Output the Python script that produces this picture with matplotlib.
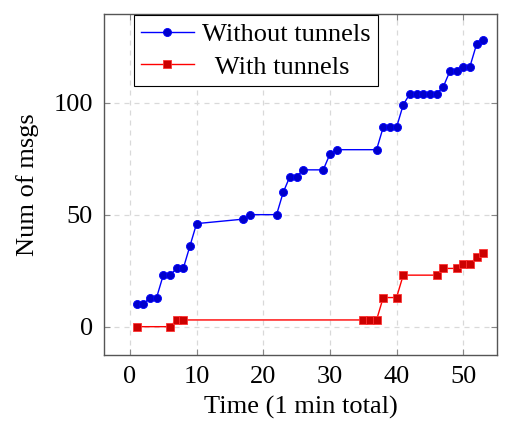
import matplotlib
matplotlib.use("Agg")
import matplotlib.pyplot as plt

# ── Data ───────────────────────────────────────────────────────────────────
t_without = [1, 2, 3, 4, 5, 6, 7, 8, 9, 10, 17, 18, 22, 23, 24, 25, 26, 29, 30, 31,
             37, 38, 39, 40, 41, 42, 43, 44, 45, 46, 47, 48, 49, 50, 51, 52, 53]
msgs_without = [10, 10, 13, 13, 23, 23, 26, 26, 36, 46, 48, 50, 50, 60, 67, 67, 70, 70, 77, 79,
                79, 89, 89, 89, 99, 104, 104, 104, 104, 104, 107, 114, 114, 116, 116, 126, 128]

t_with = [1, 6, 7, 8, 35, 36, 37, 38, 40, 41, 46, 47, 49, 50, 51, 52, 53]
msgs_with = [0, 0, 3, 3, 3, 3, 3, 13, 13, 23, 23, 26, 26, 28, 28, 31, 33]

x_ticks = [0, 10, 20, 30, 40, 50]
y_ticks = [0, 50, 100]

plt.rcParams["font.family"] = ["Liberation Serif", "DejaVu Serif"]
plt.rcParams["font.size"] = 19

fig = plt.figure(figsize=(5.07, 4.22), dpi=100)
ax = fig.add_axes([0.205, 0.159, 0.775, 0.808])

ax.plot(t_without, msgs_without, color="#0000ff", lw=1.0, marker="o", ms=5.8,
        mfc="#0000cc", mec="#0000ff", mew=0.6, label="Without tunnels", zorder=3)
ax.plot(t_with, msgs_with, color="#ff0000", lw=1.0, marker="s", ms=5.8,
        mfc="#cc0000", mec="#ff3333", mew=0.6, label="  With tunnels", zorder=3)

ax.set_xlim(-3.9, 55.05)
ax.set_ylim(-12.6, 139.6)
ax.set_xticks(x_ticks)
ax.set_yticks(y_ticks)

ax.grid(True, color="#d9d9d9", ls=(0, (4, 4)), lw=0.9)
ax.set_axisbelow(True)
ax.tick_params(direction="in", length=4, width=0.8, color="#888888",
               top=True, right=True, pad=8)
for s in ax.spines.values():
    s.set_color("#555555")
    s.set_linewidth(1.0)

ax.set_xlabel("Time (1 min total)", labelpad=6)
ax.set_ylabel("Num of msgs", labelpad=10)

leg = ax.legend(loc="upper left", bbox_to_anchor=(0.072, 1.0), fancybox=False,
                edgecolor="black", framealpha=1, borderpad=0.28, labelspacing=0.34,
                handlelength=2.0, handletextpad=0.3, borderaxespad=0.05)
leg.get_frame().set_linewidth(0.8)

fig.savefig("out.png", dpi=100)
